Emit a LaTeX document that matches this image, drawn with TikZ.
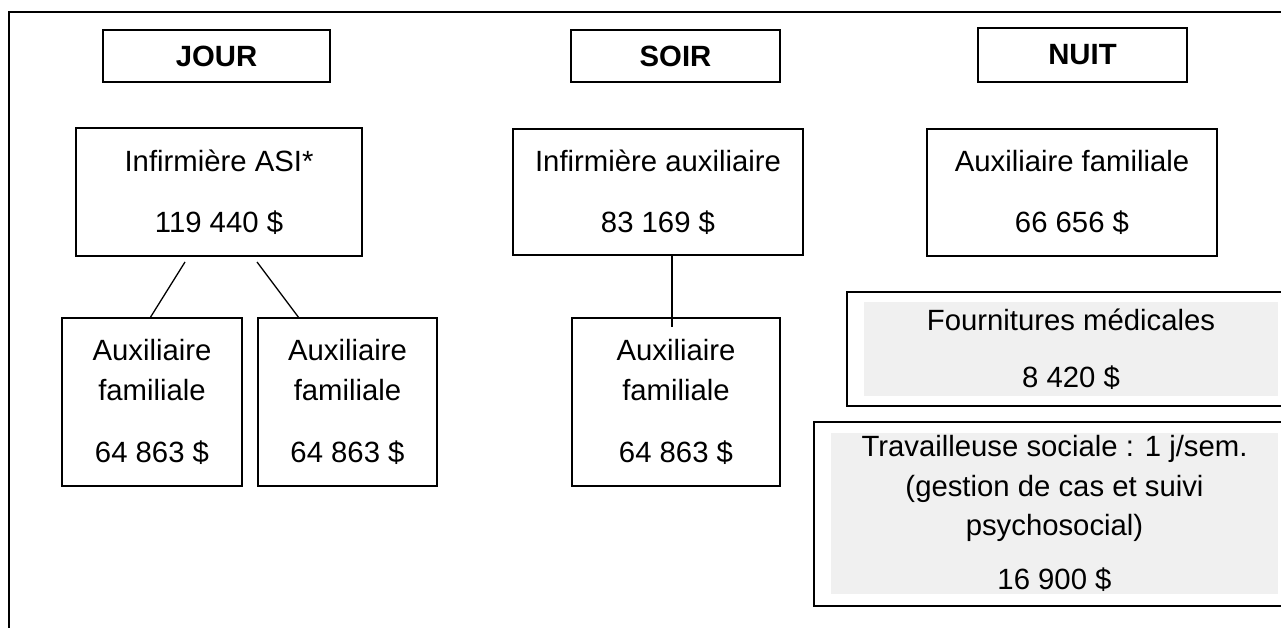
\documentclass[tikz,border=0pt]{standalone}
\usepackage{fontspec}
\setmainfont{Liberation Sans}
\definecolor{boxgray}{HTML}{F0F0F0}
\begin{document}
\begin{tikzpicture}[x=1pt,y=-1pt,
  txt/.style={font=\fontsize{29.3}{39.5}\selectfont, align=center, inner sep=0pt},
  box/.style={txt, draw=black, line width=1.7pt},
  frame/.style={draw=black, line width=1.7pt, inner sep=0pt},
  graybox/.style={txt, fill=boxgray},
  link/.style={draw=black, line width=1.3pt}]
\useasboundingbox (0,0) rectangle (1281,628);
\clip (0,0) rectangle (1281,628);
% outer frame
\coordinate (otr) at (1300,12);
\coordinate (otl) at (9,12);
\coordinate (obl) at (9,640);
\draw[line width=1.7pt] (otr) -- (otl) -- (obl);
% headers
\node[box, minimum width=227, minimum height=52] (jour) at (216.5,56) {\bfseries JOUR};
\node[box, minimum width=209, minimum height=52] (soir) at (675.5,56) {\bfseries SOIR};
\node[box, minimum width=209, minimum height=54] (nuit) at (1082.5,55) {\bfseries NUIT};
% top row
\node[box, minimum width=286, minimum height=128] (asi) at (219,192) {Infirmière ASI*\\[21pt]119 440 \$};
\node[box, minimum width=290, minimum height=126] (infaux) at (658,192) {Infirmière auxiliaire\\[21pt]83 169 \$};
\node[box, minimum width=290, minimum height=127] (auxnuit) at (1072,192.5) {Auxiliaire familiale\\[21pt]66 656 \$};
% bottom row
\node[box, minimum width=180, minimum height=168] (aux1) at (152,402) {Auxiliaire\\familiale\\[23pt]64 863 \$};
\node[box, minimum width=179, minimum height=168] (aux2) at (347.5,402) {Auxiliaire\\familiale\\[23pt]64 863 \$};
\node[box, minimum width=208, minimum height=168] (aux3) at (676,402) {Auxiliaire\\familiale\\[23pt]64 863 \$};
% grey boxes
\node[frame, minimum width=453, minimum height=114] (fournframe) at (1073.5,349) {};
\node[graybox, minimum width=414, minimum height=94] (fourn) at (1071,349) {Fournitures médicales\\[18pt]8 420 \$};
\node[frame, minimum width=486, minimum height=184] (travframe) at (1057,514) {};
\node[graybox, minimum width=447, minimum height=161] (trav) at (1054.5,513.5) {Travailleuse sociale : 1 j/sem.\\(gestion de cas et suivi\\psychosocial)\\[14pt]16 900 \$};
% connectors
\coordinate (l1a) at (185,262);
\coordinate (l1b) at (150,318);
\coordinate (l2a) at (257,262);
\coordinate (l2b) at (299,318);
\coordinate (l3a) at (672,255);
\coordinate (l3b) at (672,327);
\draw[link] (l1a) -- (l1b);
\draw[link] (l2a) -- (l2b);
\draw[link] (l3a) -- (l3b);
\end{tikzpicture}
\end{document}
